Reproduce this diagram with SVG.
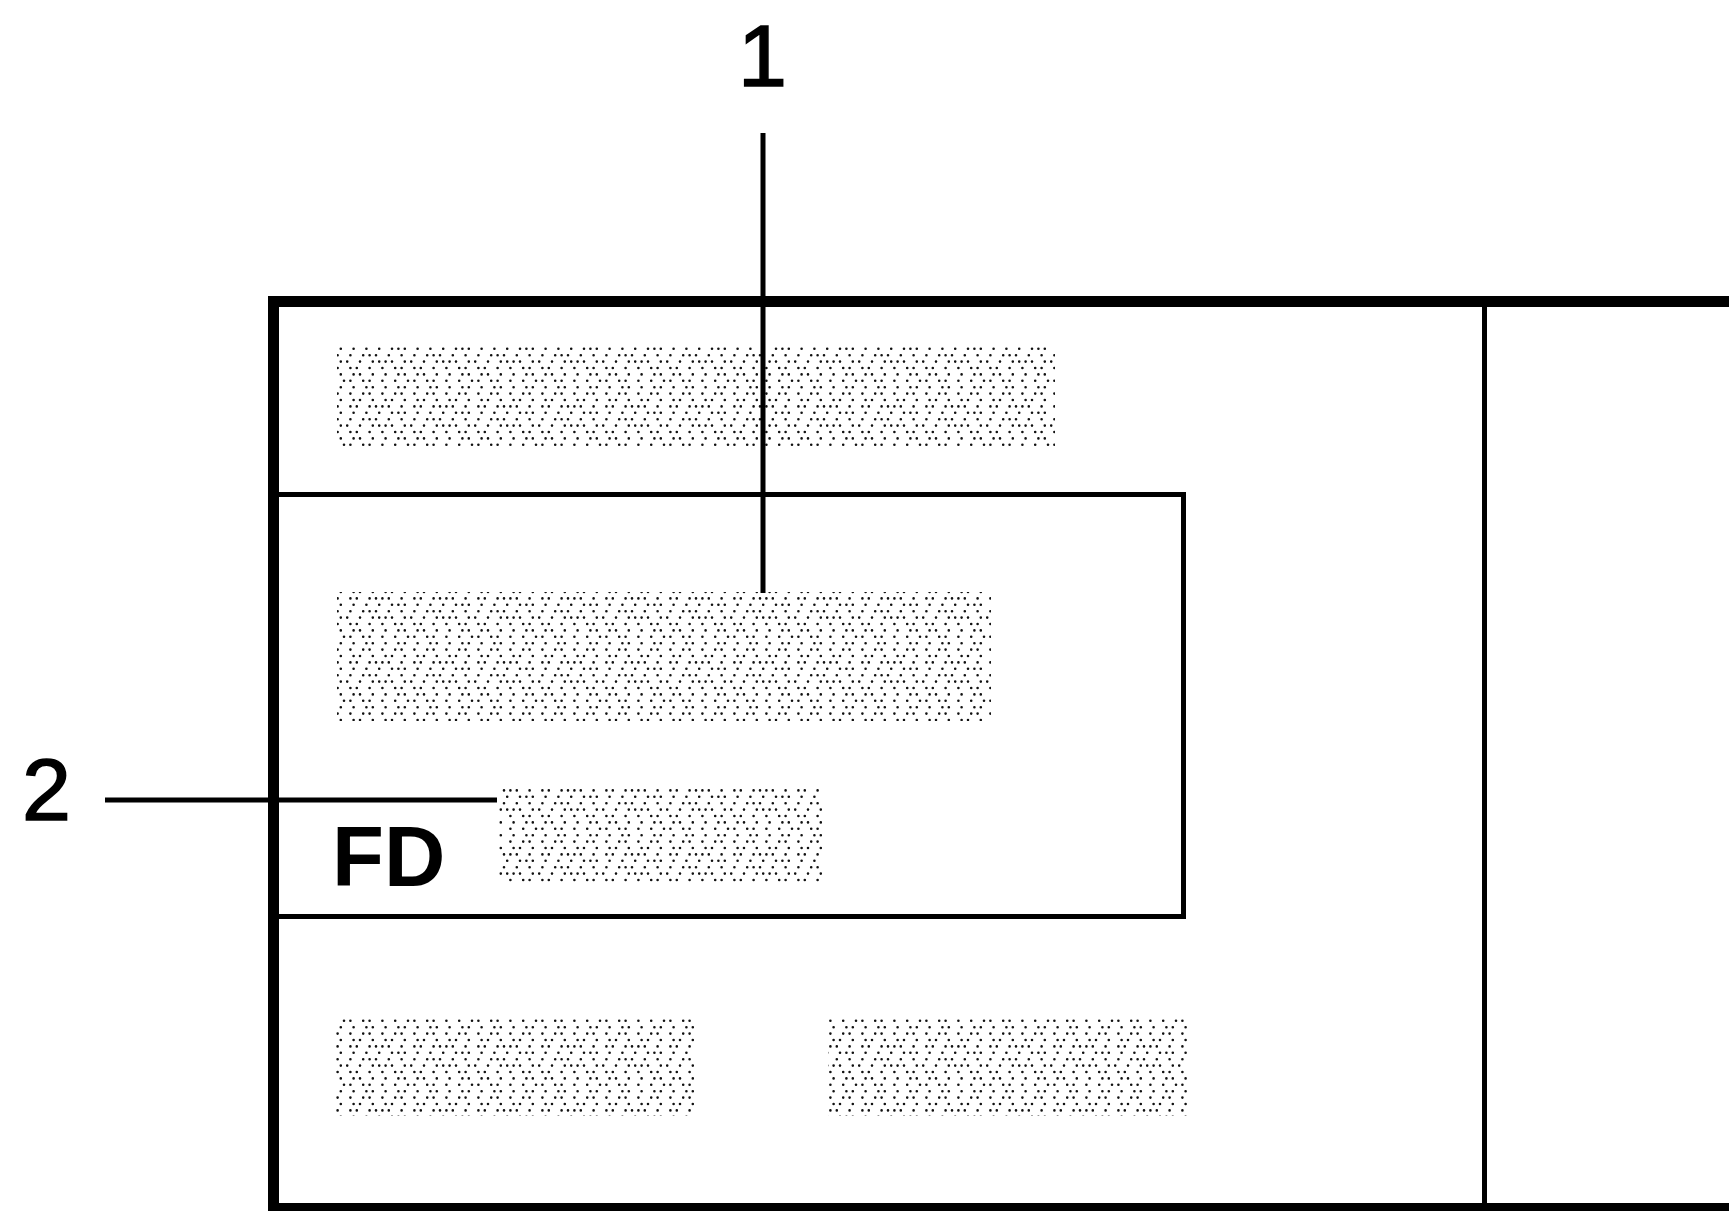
<svg xmlns="http://www.w3.org/2000/svg" width="1729" height="1211" viewBox="0 0 1729 1211">
  <style>
    .frame{fill:none;stroke:#000;stroke-width:11;stroke-linejoin:miter}
    .thin{fill:none;stroke:#000;stroke-width:5}
    .lead{fill:none;stroke:#000;stroke-width:5}
    .block{fill:url(#dots)}
    .num{font-family:"Liberation Sans",Arial,Helvetica,sans-serif;font-size:88px;fill:#000;stroke:#000;stroke-width:1.6}
    .fd{font-family:"Liberation Sans",Arial,Helvetica,sans-serif;font-size:85px;font-weight:bold;fill:#000}
  </style>
  <defs>
    <pattern id="dots" patternUnits="userSpaceOnUse" width="64" height="64">
      <path fill="none" stroke="#111" stroke-width="2.6" stroke-linecap="round" d="M1.6 3.2h0.01M14.4 3.2h0.01M20.8 3.2h0.01M33.6 3.2h0.01M46.4 3.2h0.01M52.8 3.2h0.01M11.2 9.6h0.01M17.6 9.6h0.01M30.4 9.6h0.01M43.2 9.6h0.01M49.6 9.6h0.01M62.4 9.6h0.01M1.6 16h0.01M8 16h0.01M20.8 16h0.01M33.6 16h0.01M40 16h0.01M52.8 16h0.01M4.8 22.4h0.01M17.6 22.4h0.01M30.4 22.4h0.01M36.8 22.4h0.01M49.6 22.4h0.01M56 22.4h0.01M62.4 22.4h0.01M8 28.8h0.01M14.4 28.8h0.01M20.8 28.8h0.01M33.6 28.8h0.01M46.4 28.8h0.01M59.2 28.8h0.01M4.8 35.2h0.01M17.6 35.2h0.01M30.4 35.2h0.01M43.2 35.2h0.01M49.6 35.2h0.01M56 35.2h0.01M1.6 41.6h0.01M8 41.6h0.01M20.8 41.6h0.01M27.2 41.6h0.01M40 41.6h0.01M52.8 41.6h0.01M59.2 41.6h0.01M11.2 48h0.01M17.6 48h0.01M30.4 48h0.01M36.8 48h0.01M49.6 48h0.01M62.4 48h0.01M1.6 54.4h0.01M14.4 54.4h0.01M20.8 54.4h0.01M33.6 54.4h0.01M40 54.4h0.01M52.8 54.4h0.01M11.2 60.8h0.01M24 60.8h0.01M30.4 60.8h0.01M43.2 60.8h0.01M49.6 60.8h0.01M62.4 60.8h0.01"/>
    </pattern>
  </defs>
  <rect width="1729" height="1211" fill="#fff"/>
  <g id="outer-frame">
    <path class="frame" d="M1735 301.5H273.5V1208.5H1735"/>
    <path class="thin" d="M1484.5 301V1209"/>
  </g>
  <g id="inner-box">
    <path class="thin" d="M273 494.5H1183.5V916.5H273"/>
  </g>
  <g id="block-1"><rect class="block" x="337" y="345" width="718" height="102"/></g>
  <g id="block-2"><rect class="block" x="337" y="592" width="654" height="129"/></g>
  <g id="block-3"><rect class="block" x="499" y="789" width="323" height="93"/></g>
  <g id="block-4"><rect class="block" x="336" y="1017" width="358" height="99"/></g>
  <g id="block-5"><rect class="block" x="828" y="1017" width="359" height="99"/></g>
  <g id="label-fd"><text class="fd" x="332" y="886">FD</text></g>
  <g id="label-1"><text class="num" x="738" y="86">1</text></g>
  <g id="label-2"><text class="num" x="22" y="820">2</text></g>
  <g id="connectors">
    <line class="lead" x1="763" y1="133" x2="763" y2="593"/>
    <line class="lead" x1="105" y1="800" x2="497" y2="800"/>
  </g>
</svg>
